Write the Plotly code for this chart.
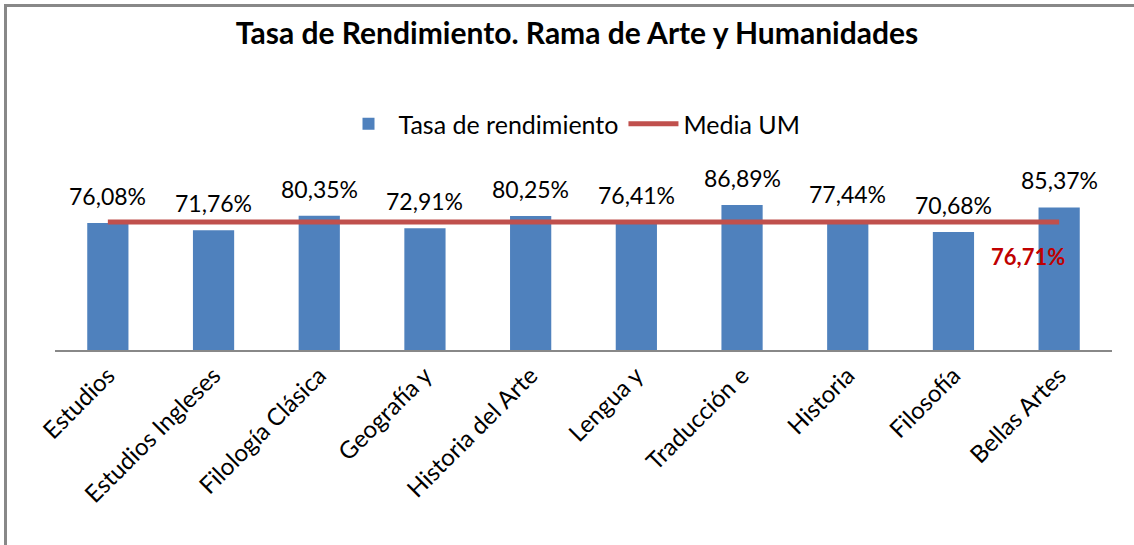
import plotly.graph_objects as go

categories = ["Estudios", "Estudios Ingleses", "Filología Clásica", "Geografía y",
              "Historia del Arte", "Lengua y", "Traducción e", "Historia",
              "Filosofía", "Bellas Artes"]
tasa = [0.7608, 0.7176, 0.8035, 0.7291, 0.8025, 0.7641, 0.8689, 0.7744, 0.7068, 0.8537]
media_um = 0.7671
title_text = "Tasa de Rendimiento. Rama de Arte y Humanidades"

FONT = "Lato"

def pct(v):
    return f"{v*100:.2f}".replace(".", ",") + "%"

fig = go.Figure()
fig.add_trace(go.Bar(
    x=categories, y=tasa, name="Tasa de rendimiento",
    marker=dict(color="#4F81BD", line=dict(width=0)),
    width=0.39,
))
fig.add_trace(go.Scatter(
    x=categories, y=[media_um] * len(categories), name="Media UM",
    mode="lines", line=dict(color="#C0504D", width=5),
))

for c, v in zip(categories, tasa):
    fig.add_annotation(x=c, y=v, text=pct(v), showarrow=False,
                       yanchor="middle", yshift=27,
                       font=dict(family=FONT, size=23, color="#000000"))

fig.add_annotation(
    x=categories[-1], y=media_um, text="<b>" + pct(media_um) + "</b>",
    showarrow=False, xshift=-31, yshift=-35,
    font=dict(family=FONT, size=22, color="#C00000"),
)

W, H = 1134, 545
L, R, T, B = 55, 22, 183, 195
pw, ph = W - L - R, H - T - B

def px_x(x):
    return (x - L) / pw

def px_y(y):
    return (H - B - y) / ph

# chart frame (top and left edges visible)
fig.add_shape(type="line", xref="paper", yref="paper",
              x0=px_x(4), x1=px_x(W + 5), y0=px_y(5.5), y1=px_y(5.5),
              line=dict(color="#888888", width=3))
fig.add_shape(type="line", xref="paper", yref="paper",
              x0=px_x(5.5), x1=px_x(5.5), y0=px_y(5), y1=px_y(H + 5),
              line=dict(color="#888888", width=3))

fig.update_layout(
    width=W, height=H,
    margin=dict(l=L, r=R, t=T, b=B),
    paper_bgcolor="white", plot_bgcolor="white",
    title=dict(text="<b>" + title_text + "</b>", x=577 / W, xanchor="center", xref="container",
               y=1 - 33 / H, yanchor="middle", yref="container",
               font=dict(family=FONT, size=30, color="#000000")),
    legend=dict(orientation="h", x=572 / W, xanchor="center", xref="container",
                y=1 - 124 / H, yanchor="middle", yref="container",
                font=dict(family=FONT, size=25, color="#000000"),
                itemwidth=50, tracegroupgap=0),
    showlegend=True,
    bargap=0.61,
    xaxis=dict(tickangle=-45, tickfont=dict(family=FONT, size=24, color="#000000"),
               showline=True, linecolor="#888888", linewidth=2,
               showgrid=False, ticks=""),
    yaxis=dict(range=[0, 1.0], visible=False, showgrid=False),
)

fig.write_html("out.html", config={"displayModeBar": False},
               post_script="document.body.style.margin='0';")
